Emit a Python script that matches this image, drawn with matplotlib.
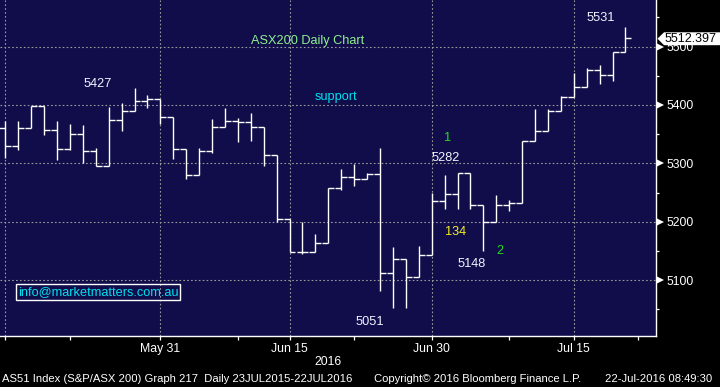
import matplotlib
matplotlib.use("Agg")
import matplotlib.pyplot as plt
import matplotlib.transforms as mtransforms
from matplotlib.patches import Polygon

# Daily OHLC, ASX200, 13 May - 21 Jul 2016
dates = ["May 13", "May 16", "May 17", "May 18", "May 19", "May 20", "May 23", "May 24",
         "May 25", "May 26", "May 27", "May 30", "May 31", "Jun 1", "Jun 2", "Jun 3",
         "Jun 6", "Jun 7", "Jun 8", "Jun 9", "Jun 10", "Jun 14", "Jun 15", "Jun 16",
         "Jun 17", "Jun 20", "Jun 21", "Jun 22", "Jun 23", "Jun 24", "Jun 27", "Jun 28",
         "Jun 29", "Jun 30", "Jul 1", "Jul 4", "Jul 5", "Jul 6", "Jul 7", "Jul 8",
         "Jul 11", "Jul 12", "Jul 13", "Jul 14", "Jul 15", "Jul 18", "Jul 19", "Jul 20",
         "Jul 21"]
opens = [5360, 5329, 5360, 5398, 5357, 5324, 5351, 5321, 5296, 5374, 5389, 5406, 5410,
         5379, 5324, 5280, 5321, 5362, 5372, 5370, 5363, 5314, 5204, 5148, 5148, 5163,
         5257, 5276, 5273, 5281, 5113, 5137, 5105, 5143, 5235, 5247, 5283, 5228, 5199,
         5228, 5232, 5338, 5355, 5389, 5413, 5430, 5459, 5452, 5490]
highs = [5373, 5372, 5398, 5398, 5372, 5367, 5366, 5326, 5396, 5404, 5429, 5417, 5410,
         5379, 5324, 5326, 5376, 5395, 5378, 5387, 5363, 5314, 5204, 5199, 5179, 5257,
         5291, 5299, 5283, 5326, 5156, 5137, 5158, 5250, 5280, 5283, 5283, 5228, 5246,
         5238, 5338, 5393, 5393, 5416, 5455, 5463, 5468, 5490, 5533]
lows = [5310, 5322, 5360, 5349, 5305, 5323, 5300, 5296, 5296, 5356, 5389, 5394, 5368,
        5308, 5273, 5280, 5318, 5362, 5337, 5339, 5296, 5200, 5148, 5144, 5148, 5163,
        5254, 5262, 5273, 5082, 5053, 5053, 5105, 5143, 5222, 5221, 5222, 5150, 5199,
        5219, 5232, 5338, 5355, 5389, 5413, 5430, 5435, 5441, 5490]
closes = [5329, 5360, 5398, 5357, 5324, 5351, 5321, 5296, 5374, 5389, 5406, 5410, 5379,
          5324, 5280, 5321, 5362, 5372, 5370, 5363, 5314, 5204, 5148, 5148, 5163, 5257,
          5276, 5273, 5281, 5113, 5137, 5105, 5143, 5235, 5247, 5283, 5228, 5199, 5228,
          5232, 5338, 5355, 5389, 5413, 5430, 5459, 5452, 5490, 5514]
last_price = 5512.397

grid_dates = ["May 13", "May 31", "Jun 15", "Jun 30", "Jul 15"]
label_dates = ["May 31", "Jun 15", "Jun 30", "Jul 15"]
minor_dates = ["May 20", "Jun 8", "Jun 22", "Jul 8"]
y_major = [5100, 5200, 5300, 5400, 5500]
y_minor = [5050, 5150, 5250, 5350, 5450, 5550]

BG = "#100d4a"
GRID = "#9a9a9a"
AXFONT = ["Liberation Sans", "DejaVu Sans"]

fig = plt.figure(figsize=(7.2, 3.87), dpi=100, facecolor="black")
ax = fig.add_axes([0, 0.1326, 0.9118, 0.8674])
ax.set_facecolor(BG)

x = list(range(len(dates)))
w = 0.46
ax.vlines(x, lows, highs, color="white", lw=1.0, zorder=3)
ax.hlines(opens, [i - w for i in x], x, color="white", lw=1.0, zorder=3)
ax.hlines(closes, x, [i + w for i in x], color="white", lw=1.0, zorder=3)

ax.set_xlim(-0.41, 50.4)
ax.set_ylim(5005, 5579.6)

# grid
for d in grid_dates:
    ax.axvline(dates.index(d), color=GRID, lw=0.8, ls=(0, (1.5, 2.0)), zorder=1)
for v in y_major:
    ax.axhline(v, color=GRID, lw=0.8, ls=(0, (1.5, 2.0)), zorder=1)

# spines
for s in ["left", "top"]:
    ax.spines[s].set_visible(False)
for s in ["right", "bottom"]:
    ax.spines[s].set_color("white")
    ax.spines[s].set_linewidth(1.0)

# x axis
minor_idx = [0] + [dates.index(d) for d in minor_dates] + [49]
ax.set_xticks([dates.index(d) for d in label_dates])
ax.set_xticklabels(label_dates)
ax.set_xticks(minor_idx, minor=True)
ax.tick_params(axis="x", which="both", colors="white", length=3.2, width=0.9,
               pad=2, labelsize=8.8)
for t in ax.get_xticklabels():
    t.set_family(AXFONT)

# y axis on the right
ax.yaxis.tick_right()
ax.set_yticks(y_major)
ax.set_yticks(y_minor, minor=True)
ax.tick_params(axis="y", which="major", colors="white", length=0, pad=7, labelsize=8.8)
ax.tick_params(axis="y", which="minor", colors="white", length=2.5, width=0.9)
for t in ax.get_yticklabels():
    t.set_family(AXFONT)

trans = mtransforms.blended_transform_factory(ax.transAxes, ax.transData)
trans = mtransforms.offset_copy(trans, fig=fig, x=3.2, y=0, units="dots")
ax.plot([1.0] * len(y_major), y_major, ls="none", marker=">", ms=5.5, mew=0,
        color="white", transform=trans, clip_on=False, zorder=5)

# last price flag
fx = lambda px: px / 720
fy = lambda py: 1 - py / 387
flag = Polygon([(fx(657.5), fy(38.7)), (fx(664), fy(32.3)), (fx(720), fy(32.3)),
                (fx(720), fy(45.2)), (fx(664), fy(45.2))],
               closed=True, facecolor="white", edgecolor="none",
               transform=fig.transFigure, zorder=10)
fig.patches.append(flag)
fig.text(fx(665), fy(38.9), f"{last_price:.3f}", color="black", fontsize=9.0,
         family=AXFONT, ha="left", va="center", zorder=11)

# annotations
ann = dict(family=AXFONT, fontsize=9.2, va="center", ha="left")
ax.text(19.0, 5510, "ASX200 Daily Chart", color="#8ff08f", **ann)
ax.text(6.04, 5436, "5427", color="#f2f4ff", **ann)
ax.text(23.97, 5413.5, "support", color="#00e0f0", **ann)
ax.text(34.24, 5343, "1", color="#22dd22", **dict(ann, ha="center"))
ax.text(32.95, 5308.6, "5282", color="#f2f4ff", **ann)
ax.text(34.03, 5182.4, "134", color="#f0f020", **ann)
ax.text(34.98, 5127.6, "5148", color="#f2f4ff", **ann)
ax.text(38.27, 5150.4, "2", color="#22dd22", **dict(ann, ha="center"))
ax.text(27.07, 5027.8, "5051", color="#f2f4ff", **ann)
ax.text(45.0, 5548.2, "5531", color="#f2f4ff", **ann)

ax.text(18 / 656.5, 0.1293, "info@marketmatters.com.au", transform=ax.transAxes,
        color="#00e0f0", family=AXFONT, fontsize=9.2, va="center", ha="left",
        bbox=dict(boxstyle="square,pad=0.15", fc="none", ec="white", lw=1.0))

# footer
fig.text(fx(314.3), fy(361.7), "2016", color="white", fontsize=8.8, family=AXFONT,
         ha="left", va="center")
foot = dict(color="white", fontsize=8.1, family=AXFONT, va="center", ha="left")
fig.text(fx(2), fy(379), "AS51 Index (S&P/ASX 200) Graph 217  Daily 23JUL2015-22JUL2016", **foot)
fig.text(fx(374), fy(379), "Copyright\u00a9 2016 Bloomberg Finance L.P.", **foot)
fig.text(fx(605), fy(379), "22-Jul-2016 08:49:30", **foot)

fig.savefig("out.png", dpi=100, facecolor="black")
